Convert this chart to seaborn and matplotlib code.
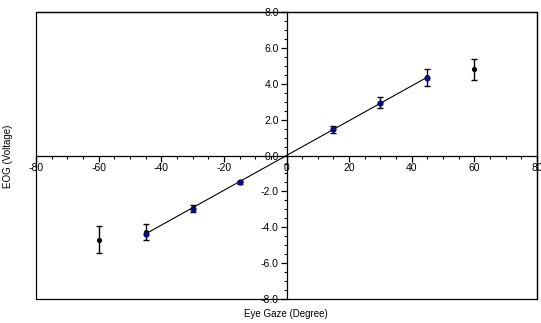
import matplotlib
matplotlib.use("Agg")
import matplotlib.pyplot as plt
import seaborn as sns
import numpy as np
import pandas as pd
from matplotlib.patches import Rectangle
from matplotlib.ticker import MultipleLocator, FuncFormatter

# data
mean_x = [-60, -45, -30, -15, 15, 30, 45, 60]
mean_y = [-4.7, -4.25, -2.95, -1.5, 1.45, 2.95, 4.35, 4.8]
mean_err = [0.75, 0.44, 0.2, 0.08, 0.2, 0.3, 0.47, 0.6]
fit_pts_x = [-45, -30, -15, 15, 30, 45]
fit_pts_y = [-4.4, -2.98, -1.49, 1.45, 2.9, 4.34]
line_x = [-45, 45]
line_y = [-4.37, 4.37]

sns.set_style("white")
plt.rcParams['font.family'] = ['Liberation Sans', 'DejaVu Sans']
plt.rcParams['text.color'] = 'black'
plt.rcParams['xtick.color'] = 'black'
plt.rcParams['ytick.color'] = 'black'
plt.rcParams['axes.labelcolor'] = 'black'

fig = plt.figure(figsize=(5.41, 3.23), dpi=100)
ax = fig.add_axes([36/541, 1-299/323, (537-36)/541, (299-12)/323])

ax.errorbar(mean_x, mean_y, yerr=mean_err, fmt='none', ecolor='black',
            elinewidth=1, capsize=2, capthick=1, zorder=3)
sns.scatterplot(x=mean_x, y=mean_y, ax=ax, color='black', s=14,
                edgecolor='black', linewidth=0, zorder=4)
sns.lineplot(x=line_x, y=line_y, ax=ax, color='black', linewidth=0.8, zorder=2)
sns.scatterplot(x=fit_pts_x, y=fit_pts_y, ax=ax, color='#0a0a80', s=20,
                edgecolor='#0a0a80', linewidth=0, zorder=5)

ax.set_xlim(-80, 80)
ax.set_ylim(-8, 8)

for s in ['left', 'bottom']:
    ax.spines[s].set_position(('data', 0))
    ax.spines[s].set_linewidth(0.9)
    ax.spines[s].set_color('black')
for s in ['top', 'right']:
    ax.spines[s].set_visible(True)
    ax.spines[s].set_linewidth(0.9)
    ax.spines[s].set_color('black')
ax.add_patch(Rectangle((0, 0), 1, 1, transform=ax.transAxes, fill=False,
                       edgecolor='black', linewidth=0.9, clip_on=False, zorder=10))

ax.xaxis.set_ticks_position('bottom')
ax.yaxis.set_ticks_position('left')
ax.xaxis.set_major_locator(MultipleLocator(20))
ax.xaxis.set_minor_locator(MultipleLocator(5))
ax.yaxis.set_major_locator(MultipleLocator(2))
ax.yaxis.set_minor_locator(MultipleLocator(0.5))
ax.yaxis.set_major_formatter(FuncFormatter(lambda v, p: f"{v:.1f}"))
ax.xaxis.set_major_formatter(FuncFormatter(lambda v, p: f"{v:.0f}"))
ax.tick_params(axis='both', which='major', direction='out', length=4, width=0.9,
               labelsize=7.5, pad=1.5, color='black', labelcolor='black')
ax.tick_params(axis='both', which='minor', direction='out', length=2, width=0.8,
               color='black')

fig.text(8/541, 1-156/323, 'EOG (Voltage)', rotation=90, ha='center', va='center',
         fontsize=7, color='black')
fig.text(286/541, 1-314/323, 'Eye Gaze (Degree)', ha='center', va='center',
         fontsize=7, color='black')

fig.savefig('out.png', dpi=100)
